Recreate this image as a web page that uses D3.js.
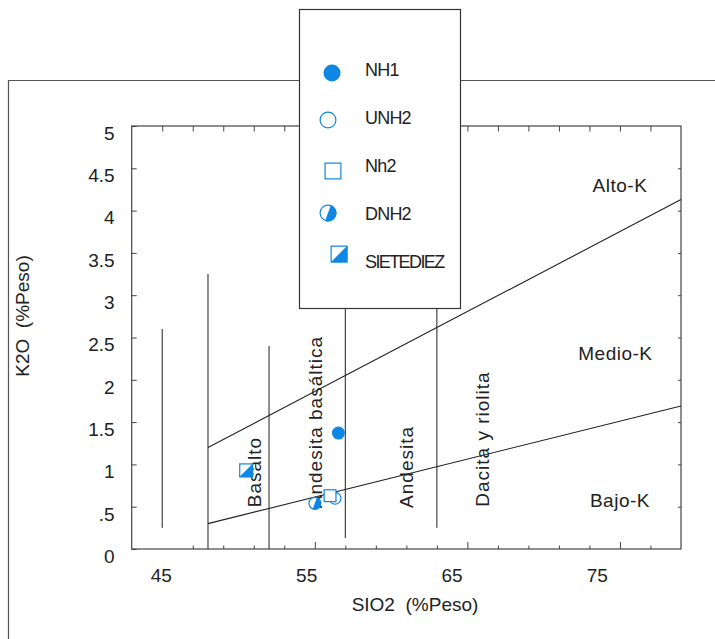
<!DOCTYPE html>
<html>
<head>
<meta charset="utf-8">
<script src="https://cdn.jsdelivr.net/npm/d3@7/dist/d3.min.js"></script>
<style>
  body { margin: 0; background: #fff; }
  svg { display: block; font-family: "Liberation Sans", Arial, sans-serif; }
  text { fill: #222; }
</style>
</head>
<body>
<div class="chart"></div>
<script>
/* data */
const seriesNames = ['NH1', 'UNH2', 'Nh2', 'DNH2', 'SIETEDIEZ']
const seriesSymbols = ['filled', 'open', 'square', 'halfCircle', 'halfSquare']
const sio2 = [56.55, 56.33, 56.0, 55.0, 50.5]
const k2o = [1.37, 0.60, 0.63, 0.54, 0.93]

const xTickLabels = [45, 55, 65, 75]
const yTickValues = [0, 0.5, 1, 1.5, 2, 2.5, 3, 3.5, 4, 4.5, 5]
const yTickLabels = ['0', '.5', '1', '1.5', '2', '2.5', '3', '3.5', '4', '4.5', '5']

// boundary lines (K2O vs SiO2)
const altoLine = [[48, 1.2], [79, 4.13]]
const bajoLine = [[48, 0.3], [79, 1.69]]
// vertical SiO2 dividers: [sio2, k2o bottom, k2o top]
const dividers = [[45, 0.25, 2.6], [48, 0, 3.25], [52, 0, 2.4], [57, 0.13, 3.6], [63, 0.25, 3.6]]
// rock names: [name, sio2, k2o]
const rockNames = [['Basalto', 51, 0.91], ['Andesita basáltica', 55, 1.5], ['Andesita', 61, 0.97], ['Dacita y riolita', 66, 1.3]]
const seriesK = [['Alto-K', 75, 4.3], ['Medio-K', 74.7, 2.32], ['Bajo-K', 75, 0.58]]

const W = 715, H = 639
const plot = { left: 131.7, right: 681, top: 126, bottom: 549 }
const blue = '#0d87e3'

const svg = d3.select('.chart').append('svg')
    .attr('width', W)
    .attr('height', H)

const x = d3.scaleLinear().domain([43, 79]).range([plot.left, plot.right])
const y = d3.scaleLinear().domain([0, 5]).range([plot.bottom, plot.top])
// the original program puts its x labels a bit short of the ticks
const xLab = d3.scaleLinear().domain([43, 79]).range([plot.left, 655])

/* outer frame */
svg.append('path')
    .attr('d', `M8.5,${H} V80.5 H${W}`)
    .attr('fill', 'none')
    .attr('stroke', '#555')
    .attr('stroke-width', 1.2)

/* plot frame + ticks */
svg.append('rect')
    .attr('x', plot.left).attr('y', plot.top)
    .attr('width', plot.right - plot.left).attr('height', plot.bottom - plot.top)
    .attr('fill', 'none').attr('stroke', '#444').attr('stroke-width', 1.2)

const tickStyle = g => {
    g.select('.domain').remove()
    g.selectAll('line').attr('stroke', '#444')
    g.selectAll('text').remove()
}

svg.append('g')
    .attr('transform', `translate(0,${plot.bottom})`)
    .call(d3.axisBottom(x).tickValues(d3.range(47, 79, 2)).tickSize(-3.5))
    .call(tickStyle)
    .selectAll('.tick line')
    .attr('y2', d => (d % 10 === 5 ? -7 : -3.5))

svg.append('g')
    .attr('transform', `translate(0,${plot.top})`)
    .call(d3.axisTop(x).tickValues(d3.range(45, 79, 2)).tickSize(-5.5))
    .call(tickStyle)

svg.append('g')
    .attr('transform', `translate(${plot.right},0)`)
    .call(d3.axisRight(y).tickValues(yTickValues.slice(1, -1)).tickSize(-3))
    .call(tickStyle)

const yAxis = svg.append('g')
    .attr('transform', `translate(${plot.left},0)`)
    .call(d3.axisLeft(y).tickValues(yTickValues).tickSize(-5).tickPadding(17)
        .tickFormat((d, i) => yTickLabels[i]))
yAxis.select('.domain').remove()
yAxis.selectAll('line').attr('stroke', '#444')
yAxis.selectAll('text')
    .attr('dy', '0.7em')
    .style('font-size', '19px')
    .style('font-family', '"Liberation Sans", Arial, sans-serif')
    .attr('fill', '#222')

const xAxis = svg.append('g')
    .attr('transform', `translate(0,${plot.bottom})`)
    .call(d3.axisBottom(xLab).tickValues(xTickLabels).tickSize(0).tickPadding(20))
xAxis.select('.domain').remove()
xAxis.selectAll('text')
    .style('font-size', '19px')
    .style('font-family', '"Liberation Sans", Arial, sans-serif')
    .attr('fill', '#222')

/* dividers and boundary lines */
svg.append('g').selectAll('line')
    .data(dividers)
    .join('line')
    .attr('x1', d => x(d[0])).attr('x2', d => x(d[0]))
    .attr('y1', d => y(d[1])).attr('y2', d => y(d[2]))
    .attr('stroke', '#333').attr('stroke-width', 1.1)

const line = d3.line().x(d => x(d[0])).y(d => y(d[1]))
svg.append('g').selectAll('path')
    .data([altoLine, bajoLine])
    .join('path')
    .attr('d', line)
    .attr('fill', 'none').attr('stroke', '#222').attr('stroke-width', 1.1)

/* labels */
svg.append('g').selectAll('text')
    .data(rockNames)
    .join('text')
    .attr('transform', d => `translate(${x(d[1])},${y(d[2])}) rotate(-90)`)
    .attr('text-anchor', 'middle')
    .attr('dy', '0.36em')
    .style('font-size', '19px')
    .style('letter-spacing', '1px')
    .text(d => d[0])

svg.append('g').selectAll('text')
    .data(seriesK)
    .join('text')
    .attr('x', d => x(d[1])).attr('y', d => y(d[2]))
    .attr('text-anchor', 'middle')
    .attr('dy', '0.36em')
    .style('font-size', '19px')
    .style('letter-spacing', '0.5px')
    .text(d => d[0])

svg.append('text')
    .attr('transform', 'translate(22,316) rotate(-90)')
    .attr('text-anchor', 'middle')
    .attr('dy', '0.36em')
    .style('font-size', '19px')
    .style('white-space', 'pre')
    .text('K2O  (%Peso)')

svg.append('text')
    .attr('x', 415).attr('y', 604)
    .attr('text-anchor', 'middle')
    .attr('dy', '0.36em')
    .style('font-size', '19px')
    .style('white-space', 'pre')
    .text('SIO2  (%Peso)')

/* symbols */
function drawSymbol(g, type, cx, cy, r) {
    const s = g.append('g').attr('transform', `translate(${cx},${cy})`)
    if (type === 'filled') {
        s.append('circle').attr('r', r).attr('fill', blue)
    } else if (type === 'open') {
        s.append('circle').attr('r', r - 0.6).attr('fill', '#fff').attr('stroke', blue).attr('stroke-width', 1.2)
    } else if (type === 'square') {
        s.append('rect').attr('x', -r + 0.6).attr('y', -r + 0.6).attr('width', 2 * r - 1.2).attr('height', 2 * r - 1.2)
            .attr('fill', '#fff').attr('stroke', blue).attr('stroke-width', 1.2)
    } else if (type === 'halfCircle') {
        s.append('circle').attr('r', r - 0.6).attr('fill', '#fff').attr('stroke', blue).attr('stroke-width', 1.2)
        s.append('path')
            .attr('d', d3.arc()({ innerRadius: 0, outerRadius: r, startAngle: 0.35, endAngle: 0.35 + Math.PI }))
            .attr('fill', blue)
    } else if (type === 'halfSquare') {
        s.append('rect').attr('x', -r + 0.6).attr('y', -r + 0.6).attr('width', 2 * r - 1.2).attr('height', 2 * r - 1.2)
            .attr('fill', '#fff').attr('stroke', blue).attr('stroke-width', 1.2)
        s.append('path').attr('d', `M${-r},${r} L${r},${-r} L${r},${r} Z`).attr('fill', blue)
    }
}

const points = svg.append('g')
seriesNames.forEach((name, i) => {
    const r = seriesSymbols[i].includes('Square') ? 7 : 6.5
    drawSymbol(points, seriesSymbols[i], x(sio2[i]), y(k2o[i]), r)
})

/* legend */
const legend = svg.append('g')
legend.append('rect')
    .attr('x', 299.5).attr('y', 9.5).attr('width', 161).attr('height', 299)
    .attr('fill', '#fff').attr('stroke', '#333').attr('stroke-width', 1.2)

const legY = d3.scalePoint().domain(seriesNames).range([70, 262])
const legOffset = { filled: [332, 3], open: [328, 2], square: [333, 5], halfCircle: [328, -1], halfSquare: [339, -8] }
seriesNames.forEach((name, i) => {
    const o = legOffset[seriesSymbols[i]]
    drawSymbol(legend, seriesSymbols[i], o[0], legY(name) + o[1], 8.5)
    legend.append('text')
        .attr('x', 365).attr('y', legY(name))
        .attr('dy', '0.36em')
        .style('font-size', '18px')
        .style('letter-spacing', name === 'SIETEDIEZ' ? '-1.6px' : '-0.8px')
        .text(name)
})
</script>
</body>
</html>
